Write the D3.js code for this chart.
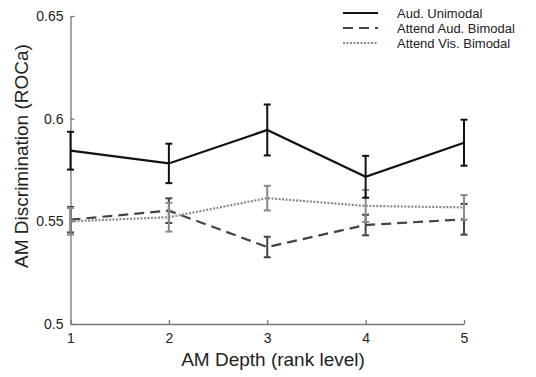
<!DOCTYPE html>
<html><head><meta charset="utf-8">
<script src="https://cdn.jsdelivr.net/npm/d3@7"></script>
<style>body{margin:0;background:#fff}svg{display:block}text{font-family:"Liberation Sans",Arial,sans-serif}</style>
</head><body><svg id="c" width="536" height="377"></svg>
<script>
const depths = [1, 2, 3, 4, 5];
const yTicks = [0.5, 0.55, 0.6, 0.65];
const seriesNames = ["Aud. Unimodal", "Attend Aud. Bimodal", "Attend Vis. Bimodal"];
const audUniMean = [0.5844, 0.5782, 0.5945, 0.5717, 0.5883];
const audUniErr  = [0.0092, 0.0096, 0.0124, 0.0102, 0.0112];
const attAudMean = [0.5508, 0.5552, 0.5375, 0.5482, 0.5510];
const attAudErr  = [0.0062, 0.0060, 0.0050, 0.0050, 0.0075];
const attVisMean = [0.5500, 0.5520, 0.5613, 0.5575, 0.5568];
const attVisErr  = [0.0065, 0.0070, 0.0060, 0.0078, 0.0060];

const svg = d3.select("#c");
const x = d3.scaleLinear().domain([1, 5]).range([70.5, 464]);
const y = d3.scaleLinear().domain([0.5, 0.65]).range([324, 16]);
const axisColor = "#777";

// axes
const gx = svg.append("g").attr("transform", "translate(0,324)")
  .call(d3.axisBottom(x).tickValues(depths).tickFormat(d3.format("d")).tickSizeInner(-4).tickSizeOuter(0).tickPadding(9));
const gy = svg.append("g").attr("transform", "translate(70.5,0)")
  .call(d3.axisLeft(y).tickValues(yTicks).tickFormat(d => String(+d.toFixed(2))).tickSizeInner(-4).tickSizeOuter(0).tickPadding(7));
[gx, gy].forEach(g => {
  g.select(".domain").attr("stroke", axisColor).attr("stroke-width", 1.3);
  g.selectAll(".tick line").attr("stroke", axisColor).attr("stroke-width", 1.3);
  g.selectAll(".tick text").attr("fill", "#222").style("font-size", "14px");
});
gy.selectAll(".tick text").attr("dy", "0.32em");

svg.append("text").attr("x", 273).attr("y", 366).attr("text-anchor", "middle")
  .style("font-size", "19px").attr("fill", "#222").text("AM Depth (rank level)");
svg.append("text").attr("transform", "translate(28,156) rotate(-90)").attr("text-anchor", "middle")
  .style("font-size", "19px").attr("fill", "#222").text("AM Discrimination (ROCa)");

const series = [
  {name: seriesNames[1], mean: attAudMean, err: attAudErr, color: "#444", dash: "10,6", width: 2.2},
  {name: seriesNames[2], mean: attVisMean, err: attVisErr, color: "#8a8a8a", dash: "2,1.5", width: 2.2},
  {name: seriesNames[0], mean: audUniMean, err: audUniErr, color: "#111", dash: null, width: 2.2}
];
const line = d3.line().x(d => x(d.x)).y(d => y(d.y));
series.forEach(s => {
  const pts = depths.map((d, i) => ({x: d, y: s.mean[i], e: s.err[i]}));
  const g = svg.append("g");
  g.append("path").datum(pts).attr("d", line).attr("fill", "none")
    .attr("stroke", s.color).attr("stroke-width", s.width).attr("stroke-dasharray", s.dash);
  const eb = g.selectAll("g.eb").data(pts).join("g").attr("stroke", s.color).attr("stroke-width", 2);
  eb.append("line").attr("x1", d => x(d.x)).attr("x2", d => x(d.x)).attr("y1", d => y(d.y - d.e)).attr("y2", d => y(d.y + d.e));
  eb.append("line").attr("x1", d => x(d.x) - 3.5).attr("x2", d => x(d.x) + 3.5).attr("y1", d => y(d.y + d.e)).attr("y2", d => y(d.y + d.e));
  eb.append("line").attr("x1", d => x(d.x) - 3.5).attr("x2", d => x(d.x) + 3.5).attr("y1", d => y(d.y - d.e)).attr("y2", d => y(d.y - d.e));
});

// legend
const legendSeries = [series[2], series[0], series[1]];
const lg = svg.append("g");
legendSeries.forEach((s, i) => {
  const yy = 13 + i * 15;
  lg.append("line").attr("x1", 343).attr("x2", 378).attr("y1", yy).attr("y2", yy)
    .attr("stroke", s.color).attr("stroke-width", 2).attr("stroke-dasharray", s.dash);
  lg.append("text").attr("x", 397).attr("y", yy).attr("dy", "0.35em")
    .style("font-size", "13px").attr("fill", "#222").text(s.name);
});
</script></body></html>
